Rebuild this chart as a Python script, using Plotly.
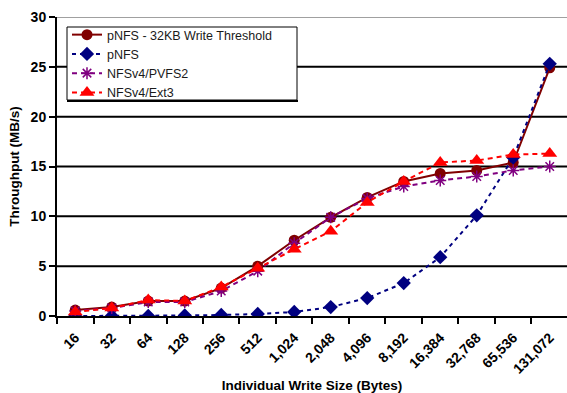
import plotly.graph_objects as go

# Write sizes (bytes) on the category axis
sizes = ["16", "32", "64", "128", "256", "512", "1,024", "2,048", "4,096",
         "8,192", "16,384", "32,768", "65,536", "131,072"]

# Throughput in MB/s for each configuration
pnfs_threshold = [0.6, 0.9, 1.5, 1.5, 2.8, 5.0, 7.6, 9.9, 11.9, 13.5, 14.3, 14.6, 15.4, 24.9]
pnfs = [0.0, 0.0, 0.0, 0.05, 0.1, 0.2, 0.4, 0.9, 1.8, 3.3, 5.9, 10.1, 15.9, 25.3]
nfsv4_pvfs2 = [0.5, 0.8, 1.4, 1.4, 2.5, 4.5, 7.3, 9.9, 11.8, 13.0, 13.6, 14.0, 14.6, 15.0]
nfsv4_ext3 = [0.4, 0.8, 1.6, 1.5, 2.9, 4.8, 6.7, 8.5, 11.4, 13.5, 15.4, 15.6, 16.2, 16.3]

y_ticks = [0, 5, 10, 15, 20, 25, 30]

FONT = "Liberation Sans, Arial, sans-serif"

# Plot-area geometry in pixels (used to place the legend frame)
W, H = 567, 393
L, T, B = 57, 17, 77
PW, PH = W - L, H - T - B


def px_x(x):
    return (x - L) / PW


def px_y(y):
    return (H - B - y) / PH


fig = go.Figure()

fig.add_trace(go.Scatter(
    x=sizes, y=pnfs_threshold, name="pNFS - 32KB Write Threshold",
    mode="lines+markers",
    line=dict(color="#800000", width=2),
    marker=dict(symbol="circle", size=11, color="#800000"),
))
fig.add_trace(go.Scatter(
    x=sizes, y=pnfs, name="pNFS",
    mode="lines+markers",
    line=dict(color="#000080", width=2, dash="4px,4px"),
    marker=dict(symbol="diamond", size=11, color="#000080"),
))
fig.add_trace(go.Scatter(
    x=sizes, y=nfsv4_pvfs2, name="NFSv4/PVFS2",
    mode="lines+markers",
    line=dict(color="#800080", width=2, dash="5px,4px"),
    marker=dict(symbol="asterisk-open", size=10, color="#800080",
                line=dict(color="#800080", width=1.5)),
))
fig.add_trace(go.Scatter(
    x=sizes, y=nfsv4_ext3, name="NFSv4/Ext3",
    mode="lines+markers",
    line=dict(color="#FF0000", width=2, dash="5px,4px"),
    marker=dict(symbol="triangle-up", size=13, color="#FF0000"),
))

# Horizontal guide lines: black at interior ticks, grey frame at the top
for v in y_ticks[1:-1]:
    fig.add_shape(type="line", xref="paper", yref="y", x0=0, x1=1, y0=v, y1=v,
                  line=dict(color="black", width=2), layer="below")
fig.add_shape(type="line", xref="paper", yref="y", x0=0, x1=1,
              y0=y_ticks[-1], y1=y_ticks[-1],
              line=dict(color="#808080", width=1.5), layer="below")

# Legend frame with a heavier bottom edge (drop shadow)
fig.add_shape(type="rect", xref="paper", yref="paper",
              x0=px_x(67), x1=px_x(297), y0=px_y(100), y1=px_y(27),
              line=dict(color="black", width=1), fillcolor="white", layer="above")
fig.add_shape(type="line", xref="paper", yref="paper",
              x0=px_x(67), x1=px_x(298), y0=px_y(101), y1=px_y(101),
              line=dict(color="black", width=2), layer="above")

n = len(sizes)
fig.update_layout(
    width=W, height=H,
    margin=dict(l=L, r=0, t=T, b=B),
    paper_bgcolor="white", plot_bgcolor="white",
    font=dict(family=FONT, color="black"),
    showlegend=True,
    legend=dict(
        x=px_x(67), y=px_y(20), xanchor="left", yanchor="top",
        bgcolor="rgba(0,0,0,0)", borderwidth=0,
        font=dict(family=FONT, size=12.5, color="#1a1a1a"),
        tracegroupgap=0,
    ),
    xaxis=dict(
        type="category", categoryorder="array", categoryarray=sizes,
        range=[-0.5, n - 0.5 - 0.027],
        tickson="boundaries", ticks="outside", ticklen=6, tickwidth=1.5,
        tickcolor="black", tickangle=-45, ticklabelstandoff=6,
        tickfont=dict(family=FONT, size=14, weight="bold"),
        showline=True, linecolor="black", linewidth=2,
        showgrid=False, zeroline=False,
        title=dict(text="Individual Write Size (Bytes)",
                   font=dict(family=FONT, size=13.5, weight="bold"), standoff=8),
    ),
    yaxis=dict(
        range=[0, 30], tickvals=y_ticks,
        ticks="outside", ticklen=6, tickwidth=1.5, tickcolor="black",
        tickfont=dict(family=FONT, size=14, weight="bold"),
        showline=True, linecolor="black", linewidth=2,
        showgrid=False, zeroline=False,
        title=dict(text="Throughput (MB/s)",
                   font=dict(family=FONT, size=13.5, weight="bold"), standoff=8),
    ),
)

fig.write_html("out.html")
